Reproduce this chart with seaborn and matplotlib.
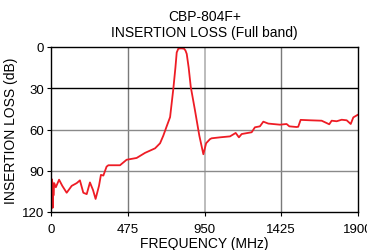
import numpy as np
import pandas as pd
import matplotlib
matplotlib.use('Agg')
import matplotlib.pyplot as plt
import seaborn as sns

# Frekans (MHz) ve kayip (dB)
freq = [0, 2, 4, 6, 8, 10, 12, 15, 20, 30, 50, 70, 97, 128, 159, 179, 200, 221, 241,
        260, 276, 297, 309, 324, 344, 355, 390, 427, 468, 530, 582, 644, 675, 695,
        715, 737, 757, 770, 778, 788, 805, 823, 832, 840, 852, 865, 891, 918, 943,
        960, 984, 994, 1046, 1108, 1143, 1163, 1180, 1242, 1262, 1293, 1314, 1345,
        1417, 1458, 1475, 1520, 1530, 1545, 1603, 1675, 1722, 1737, 1768, 1799,
        1830, 1855, 1871, 1900]
loss = [100, 110, 96, 116, 98, 117, 100, 108, 99, 102, 96.5, 101, 106, 101, 99, 97,
        106, 107, 98.5, 104, 110.5, 101, 93, 93.5, 87, 86, 86, 86, 82, 80.7, 77,
        73.7, 70, 64.5, 58, 51, 30.5, 15, 4, 1.2, 1, 1.2, 2.5, 5, 15, 29, 46, 64.5,
        78, 70, 67, 66.4, 65.7, 65, 62.5, 65.7, 63.3, 62, 58.4, 57.7, 54.3, 55.7,
        56.5, 56, 57.7, 58.2, 58, 53, 53.3, 53.6, 56.2, 53.6, 54, 52.9, 53.3, 56,
        51.2, 49.2]

df = pd.DataFrame({'freq': freq, 'loss': loss})

sns.set_theme(style='white')
plt.rcParams['font.family'] = ['Liberation Sans', 'DejaVu Sans']

fig = plt.figure(figsize=(3.67, 2.51), dpi=100)
ax = fig.add_axes([51 / 367, 1 - 213 / 251, 307 / 367, 165 / 251])

sns.lineplot(data=df, x='freq', y='loss', ax=ax, color='#ee1c25', linewidth=1.3)

ax.set_xlim(0, 1900)
ax.set_ylim(120, 0)
ax.set_xticks([0, 475, 950, 1425, 1900])
ax.set_yticks([0, 30, 60, 90, 120])

ax.axvline(475, color='#7a7a7a', linewidth=1, zorder=0)
ax.axvline(950, color='#b0b0b0', linewidth=1.2, zorder=0)
ax.axvline(1425, color='#7a7a7a', linewidth=1, zorder=0)
ax.axhline(30, color='black', linewidth=1, zorder=0)
for y in [60, 90]:
    ax.axhline(y, color='#8a8a8a', linewidth=1, zorder=0)

for s in ax.spines.values():
    s.set_color('black')
    s.set_linewidth(1)

ax.tick_params(axis='both', labelsize=9.5, colors='black', length=3, width=0.8,
               direction='out', pad=2)
ax.tick_params(axis='x', pad=5)
ax.xaxis.set_ticks_position('bottom')
ax.yaxis.set_ticks_position('left')

ax.set_xlabel('FREQUENCY (MHz)', fontsize=10, labelpad=1, color='black')
ax.set_ylabel('INSERTION LOSS (dB)', fontsize=10, labelpad=3, color='black')
ax.set_title('CBP-804F+\nINSERTION LOSS (Full band)', fontsize=10, linespacing=1.15,
             pad=8, color='black')

fig.savefig('out.png', dpi=100)
